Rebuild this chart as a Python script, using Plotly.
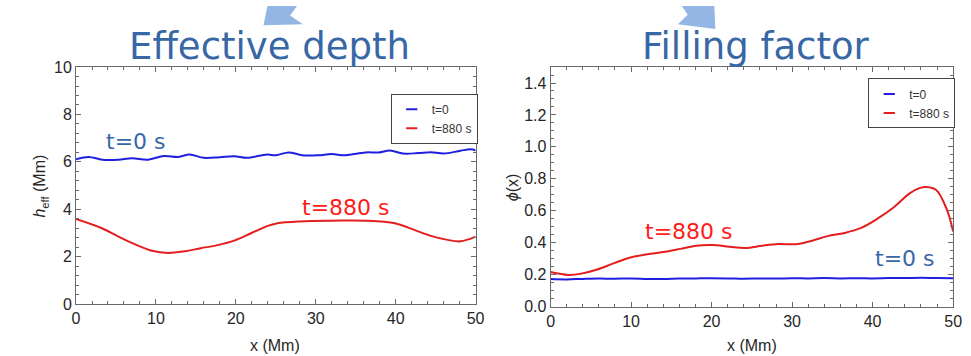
import plotly.graph_objects as go

W, H = 971, 356

# ---------------- data ----------------
x_h_t0 = [0, 1.6, 3.3, 5.3, 7, 9, 11, 12.8, 14.2, 16, 18, 19.8, 21.4, 23.9, 25, 26.6, 28.3,
          30.3, 32, 33.7, 36.2, 37.9, 39.3, 40.9, 42.8, 44.4, 46, 48.1, 49.4, 50]
h_t0 = [6.11, 6.21, 6.09, 6.09, 6.15, 6.09, 6.25, 6.21, 6.31, 6.17, 6.2, 6.24, 6.17, 6.31, 6.28,
        6.4, 6.28, 6.28, 6.33, 6.28, 6.4, 6.4, 6.48, 6.35, 6.37, 6.41, 6.35, 6.47, 6.53, 6.48]

x_h_t880 = [0, 3.3, 5.3, 7.4, 9.5, 11.5, 13.6, 15.6, 17.7, 19.8, 21.9, 23.9, 25.2, 28, 32.1,
            36.2, 39.9, 42.4, 44.4, 46.5, 48.1, 50]
h_t880 = [3.59, 3.19, 2.85, 2.52, 2.25, 2.16, 2.23, 2.36, 2.49, 2.68, 2.99, 3.29, 3.41, 3.49,
          3.52, 3.52, 3.41, 3.12, 2.88, 2.71, 2.65, 2.85]

x_phi_t0 = [0, 2, 4, 6, 8, 10, 12, 14, 16, 18, 20, 22, 24, 26, 28, 30, 32, 34, 36, 38, 40, 42,
            44, 46, 48, 50]
phi_t0 = [0.172, 0.170, 0.173, 0.175, 0.174, 0.176, 0.173, 0.172, 0.175, 0.176, 0.177, 0.176,
          0.174, 0.176, 0.175, 0.177, 0.176, 0.178, 0.176, 0.177, 0.176, 0.178, 0.178, 0.180,
          0.178, 0.177]

x_phi_t880 = [0, 2.2, 3.8, 5.8, 7.9, 9.9, 12, 14, 16.1, 18.1, 20.1, 22.2, 24.2, 26.3, 28.3,
              30.7, 32.4, 34.4, 36.5, 38.5, 40.6, 42.6, 44.6, 45.9, 46.7, 47.9, 49.2, 50]
phi_t880 = [0.216, 0.198, 0.206, 0.232, 0.272, 0.307, 0.327, 0.341, 0.361, 0.381, 0.385, 0.375,
            0.367, 0.381, 0.391, 0.391, 0.411, 0.441, 0.461, 0.491, 0.55, 0.62, 0.709, 0.743,
            0.749, 0.73, 0.61, 0.47]

x_ticks = [0, 10, 20, 30, 40, 50]
h_ticks = [0, 2, 4, 6, 8, 10]
phi_ticks = [0.0, 0.2, 0.4, 0.6, 0.8, 1.0, 1.2, 1.4]
phi_ticklabels = ["0.0", "0.2", "0.4", "0.6", "0.8", "1.0", "1.2", "1.4"]

legend_names = ["t=0", "t=880 s"]
titles = ["Effective depth", "Filling factor"]

# ---------------- styles ----------------
BLUE = "#1f1fe0"
RED = "#e41e1e"
TITLE_BLUE = "#3867a6"
ARROW = "#93b6e4"
FRAME = "#6a6a6a"
TICKFONT = dict(family="Liberation Sans, Arial, sans-serif", size=16, color="#262626")


def px(xp, yp):
    return xp / W, 1 - yp / H


fig = go.Figure()

fig.add_trace(go.Scatter(x=x_h_t0, y=h_t0, mode="lines", line=dict(color=BLUE, width=2, shape="spline"),
                         xaxis="x", yaxis="y", showlegend=False))
fig.add_trace(go.Scatter(x=x_h_t880, y=h_t880, mode="lines", line=dict(color=RED, width=2, shape="spline"),
                         xaxis="x", yaxis="y", showlegend=False))
fig.add_trace(go.Scatter(x=x_phi_t0, y=phi_t0, mode="lines", line=dict(color=BLUE, width=2, shape="spline"),
                         xaxis="x2", yaxis="y2", showlegend=False))
fig.add_trace(go.Scatter(x=x_phi_t880, y=phi_t880, mode="lines", line=dict(color=RED, width=2, shape="spline"),
                         xaxis="x2", yaxis="y2", showlegend=False))

# legend entries (short dash symbols)
for lg, (xa, ya) in zip(["legend", "legend2"], [("x", "y"), ("x2", "y2")]):
    for name, col in zip(legend_names, [BLUE, RED]):
        fig.add_trace(go.Scatter(x=[None], y=[None], mode="markers", name=name,
                                 marker=dict(symbol="line-ew-open", size=8, color=col,
                                             line=dict(color=col, width=2)),
                                 xaxis=xa, yaxis=ya, legend=lg, showlegend=True))

axis_common = dict(showline=True, linecolor=FRAME, linewidth=1, mirror="allticks",
                   ticks="inside", ticklen=5, tickcolor=FRAME, tickfont=TICKFONT,
                   showgrid=False, zeroline=False)

LEGFONT = dict(family="Liberation Sans, Arial, sans-serif", size=12, color="#333333")

fig.update_layout(
    width=W, height=H, margin=dict(l=0, r=0, t=0, b=0),
    paper_bgcolor="white", plot_bgcolor="white",
    xaxis=dict(domain=[73 / W, 478 / W], range=[0, 50], tickvals=x_ticks, anchor="y",
               minor=dict(dtick=2, ticks="inside", ticklen=3, tickcolor=FRAME), **axis_common),
    yaxis=dict(domain=[1 - 311 / H, 1 - 62 / H], range=[0, 10], tickvals=h_ticks, anchor="x",
               minor=dict(dtick=0.4, ticks="inside", ticklen=3, tickcolor=FRAME), **axis_common),
    xaxis2=dict(domain=[554 / W, 962 / W], range=[0, 50], tickvals=x_ticks, anchor="y2",
                minor=dict(dtick=2, ticks="inside", ticklen=3, tickcolor=FRAME), **axis_common),
    yaxis2=dict(domain=[1 - 313.5 / H, 1 - 62 / H], range=[0, 1.5], tickvals=phi_ticks,
                ticktext=phi_ticklabels, anchor="x2",
                minor=dict(dtick=0.05, ticks="inside", ticklen=3, tickcolor=FRAME), **axis_common),
    legend=dict(x=392 / W, y=1 - 90 / H, xanchor="left", yanchor="top", bgcolor="white",
                bordercolor="#444444", borderwidth=1, itemwidth=30, tracegroupgap=0, font=LEGFONT),
    legend2=dict(x=876 / W, y=1 - 74 / H, xanchor="left", yanchor="top", bgcolor="white",
                 bordercolor="#444444", borderwidth=1, itemwidth=30, tracegroupgap=0, font=LEGFONT),
)

ann = []
# panel titles
for t, (cx, cy) in zip(titles, [(269, 40), (762, 40)]):
    ax_, ay_ = px(cx, cy)
    ann.append(dict(text=t, x=ax_, y=ay_, xref="paper", yref="paper", showarrow=False,
                    xanchor="center", yanchor="middle",
                    font=dict(family="DejaVu Sans, Verdana, sans-serif", size=37, color=TITLE_BLUE)))
# curve labels (data coordinates)
LBL = dict(family="DejaVu Sans, Verdana, sans-serif", size=22)
ann += [
    dict(text="t=0 s", x=7.5, y=6.84, xref="x", yref="y", showarrow=False, font=dict(color=TITLE_BLUE, **LBL)),
    dict(text="t=880 s", x=33.8, y=4.08, xref="x", yref="y", showarrow=False, font=dict(color="#ff1a1a", **LBL)),
    dict(text="t=880 s", x=17.2, y=0.469, xref="x2", yref="y2", showarrow=False, font=dict(color="#ff1a1a", **LBL)),
    dict(text="t=0 s", x=44.0, y=0.30, xref="x2", yref="y2", showarrow=False, font=dict(color=TITLE_BLUE, **LBL)),
]
# axis titles
AXF = dict(family="Liberation Sans, Arial, sans-serif", size=16, color="#262626")
for txt, (cx, cy), rot in [("<i>h</i><sub>eff</sub> (Mm)", (37, 187), -90),
                           ("<i>ϕ</i>(x)", (515, 188), -90),
                           ("x (Mm)", (275, 354), 0),
                           ("x (Mm)", (758, 354), 0)]:
    ax_, ay_ = px(cx, cy)
    ann.append(dict(text=txt, x=ax_, y=ay_, xref="paper", yref="paper", showarrow=False,
                    xanchor="center", yanchor="middle", textangle=rot, font=AXF))
fig.update_layout(annotations=ann)


def poly(points):
    s = ""
    for i, (a, b) in enumerate(points):
        xa, yb = px(a, b)
        s += ("M" if i == 0 else "L") + f"{xa:.5f},{yb:.5f} "
    return s + "Z"


fig.update_layout(shapes=[
    dict(type="path", xref="paper", yref="paper", layer="above",
         path=poly([(267, -2), (297, -2), (290, 8), (303, 17), (263, 18)]),
         fillcolor=ARROW, line=dict(width=0)),
    dict(type="path", xref="paper", yref="paper", layer="above",
         path=poly([(687, -2), (720, -2), (721, 22), (683, 17), (693, 7)]),
         fillcolor=ARROW, line=dict(width=0)),
])

fig.write_html("out.html")
